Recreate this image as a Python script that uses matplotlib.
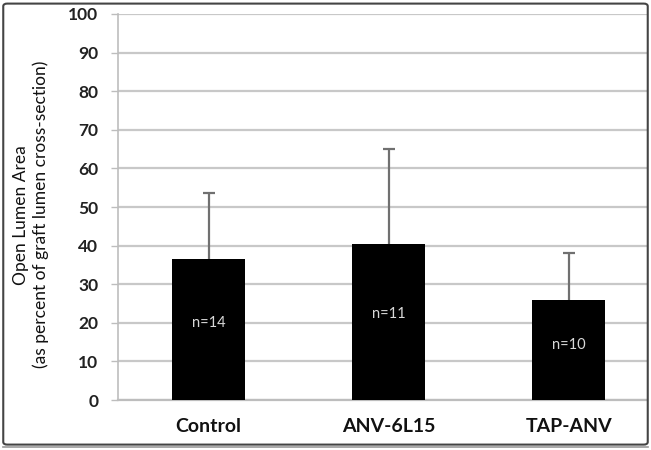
import matplotlib.pyplot as plt
from matplotlib.patches import FancyBboxPatch

plt.rcParams['font.family'] = ['Lato', 'DejaVu Sans']

# bar chart data
groups = ["Control", "ANV-6L15", "TAP-ANV"]
means = [36.5, 40.4, 26.0]
err_upper = [17.1, 24.6, 12.1]
n_labels = ["n=14", "n=11", "n=10"]

fig = plt.figure(figsize=(6.51, 4.5), dpi=100)
ax = fig.add_axes([0.181, 0.111, 0.813, 0.858])

x = list(range(len(groups)))
ax.bar(x, means, width=0.405, color="black", zorder=3)
eb = ax.errorbar(x, means, yerr=[[0] * len(means), err_upper], fmt="none",
                 ecolor="#707070", elinewidth=1.6, capsize=4, capthick=1.6, zorder=2)
# only the upper cap is wanted
eb[1][0].set_visible(False)

for xi, m, lab in zip(x, means, n_labels):
    ax.text(xi, m * 0.55, lab, color="#d8d8d8", ha="center", va="center",
            fontsize=10.5, zorder=4)

ax.set_xlim(-0.505, 2.435)
ax.set_ylim(0, 100)
ax.set_yticks(range(0, 101, 10))
ax.set_xticks(x)
ax.set_xticklabels(groups, fontsize=14, fontweight="bold", color="#111111")
ax.tick_params(axis="x", length=0, pad=13)
ax.tick_params(axis="y", length=5, width=1, color="#bdbdbd", pad=9,
               labelsize=12.5, labelcolor="#222222")
for lab in ax.get_yticklabels():
    lab.set_fontweight("bold")

ax.yaxis.grid(True, color="#c8c8c8", linewidth=1.6, zorder=0)
ax.set_axisbelow(True)
for side in ["top", "right"]:
    ax.spines[side].set_visible(False)
ax.spines["left"].set_color("#bdbdbd")
ax.spines["bottom"].set_color("#bdbdbd")
ax.spines["left"].set_linewidth(1.2)
ax.spines["bottom"].set_linewidth(1.6)

ax.set_ylabel("Open Lumen Area\n(as percent of graft lumen cross-section)",
              fontsize=12.5, color="#111111", linespacing=1.25)
ax.yaxis.set_label_coords(-0.13, 0.48)

# outer frame around the figure
frame = FancyBboxPatch((0.005, 0.012), 0.99, 0.98, transform=fig.transFigure,
                       boxstyle="round,pad=0,rounding_size=0.006",
                       facecolor="none", edgecolor="#444444", linewidth=1.5)
fig.patches.append(frame)
fig.add_artist(plt.Line2D([0.005, 0.995], [0.006, 0.006], transform=fig.transFigure,
                          color="#999999", linewidth=1.2))

fig.savefig("out.png", dpi=100)
